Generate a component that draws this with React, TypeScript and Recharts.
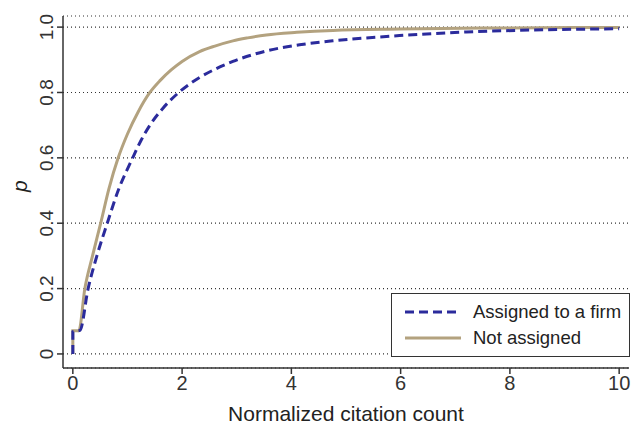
import React from 'react';
import {
  LineChart,
  Line,
  XAxis,
  YAxis,
  CartesianGrid
} from 'recharts';

// (cumulative share p by normalized citation count)
const assignedX = [0, 0, 0.13, 0.28, 0.44, 0.63, 0.83, 1.09, 1.25, 1.42, 1.65, 1.94, 2.32, 2.6, 2.93, 3.54, 4.15, 4.76, 5.98, 7.2, 8.4, 10.0];
const assignedP = [0, 0.068, 0.072, 0.2, 0.3, 0.4, 0.5, 0.598, 0.654, 0.702, 0.752, 0.8, 0.846, 0.871, 0.895, 0.927, 0.946, 0.958, 0.974, 0.985, 0.991, 0.995];

const notAssignedX = [0, 0, 0.11, 0.22, 0.36, 0.51, 0.66, 0.83, 1.0, 1.2, 1.41, 1.6, 1.8, 2.0, 2.32, 2.6, 2.93, 3.2, 3.54, 4.1, 4.76, 5.98, 7.5, 10.0];
const notAssignedP = [0, 0.071, 0.071, 0.2, 0.3, 0.4, 0.505, 0.6, 0.673, 0.742, 0.8, 0.837, 0.869, 0.895, 0.925, 0.942, 0.958, 0.967, 0.976, 0.984, 0.99, 0.994, 0.997, 0.999];

const xTicks = [0, 2, 4, 6, 8, 10];
const yTicks = [0, 0.2, 0.4, 0.6, 0.8, 1.0];

const seriesNames = ['Assigned to a firm', 'Not assigned'];
const BLUE = '#2b2b9c';
const TAN = '#b3a27f';
const INK = '#333333';
const FONT = '"Liberation Sans", Arial, sans-serif';

const assigned = assignedX.map((x, i) => ({ x, p: assignedP[i] }));
const notAssigned = notAssignedX.map((x, i) => ({ x, p: notAssignedP[i] }));

function YTick(props: any) {
  const { x, y, payload } = props;
  const v = payload.value;
  const label = v === 0 ? '0' : v.toFixed(1);
  const tx = x - 2;
  return (
    <text
      x={tx}
      y={y}
      transform={`rotate(-90, ${tx}, ${y})`}
      textAnchor="middle"
      fill={INK}
      fontSize={19}
      fontFamily={FONT}
    >
      {label}
    </text>
  );
}

function LegendBox() {
  return (
    <div
      style={{
        position: 'absolute',
        left: 391,
        top: 293,
        border: `1px solid ${INK}`,
        background: '#fff',
        width: 239,
        height: 64,
        boxSizing: 'border-box',
        fontFamily: FONT,
        fontSize: 18.5,
        color: '#222',
        padding: '5px 0 0 13px'
      }}
    >
      <div style={{ display: 'flex', alignItems: 'center', height: 26 }}>
        <svg width={58} height={6}>
          <line x1={0} y1={3} x2={56} y2={3} stroke={BLUE} strokeWidth={3} strokeDasharray="9 5" />
        </svg>
        <span style={{ marginLeft: 10 }}>{seriesNames[0]}</span>
      </div>
      <div style={{ display: 'flex', alignItems: 'center', height: 26 }}>
        <svg width={58} height={6}>
          <line x1={0} y1={3} x2={56} y2={3} stroke={TAN} strokeWidth={3} />
        </svg>
        <span style={{ marginLeft: 10 }}>{seriesNames[1]}</span>
      </div>
    </div>
  );
}

export default function App() {
  return (
    <div style={{ position: 'absolute', left: 0, top: 0, width: 631, height: 426, background: '#fff' }}>
      <LineChart width={631} height={426} margin={{ top: 16, right: 2, bottom: 0, left: 0 }}>
        <CartesianGrid
          horizontal={true}
          vertical={false}
          stroke={INK}
          strokeDasharray="1 3"
          strokeWidth={1.2}
        />
        <XAxis
          type="number"
          dataKey="x"
          domain={[-0.18, 10.18]}
          ticks={xTicks}
          allowDataOverflow
          height={58}
          stroke={INK}
          strokeWidth={1.5}
          tickSize={6}
          tick={{ fill: INK, fontSize: 20, fontFamily: FONT }}
          label={{
            value: 'Normalized citation count',
            position: 'insideBottom',
            offset: 5,
            fill: '#222',
            fontSize: 21,
            fontFamily: FONT
          }}
        />
        <YAxis
          type="number"
          domain={[-0.043, 1.034]}
          ticks={yTicks}
          allowDataOverflow
          width={63}
          stroke={INK}
          strokeWidth={1.5}
          tickSize={6}
          tick={<YTick />}
          label={{
            value: 'p',
            angle: -90,
            position: 'insideLeft',
            offset: 20,
            fill: '#222',
            fontSize: 21,
            fontStyle: 'italic',
            fontFamily: FONT
          }}
        />
        <Line
          data={notAssigned}
          dataKey="p"
          name={seriesNames[1]}
          type="monotone"
          stroke={TAN}
          strokeWidth={3}
          dot={false}
          isAnimationActive={false}
        />
        <Line
          data={assigned}
          dataKey="p"
          name={seriesNames[0]}
          type="monotone"
          stroke={BLUE}
          strokeWidth={3}
          strokeDasharray="9 5"
          dot={false}
          isAnimationActive={false}
        />
      </LineChart>
      <LegendBox />
    </div>
  );
}
